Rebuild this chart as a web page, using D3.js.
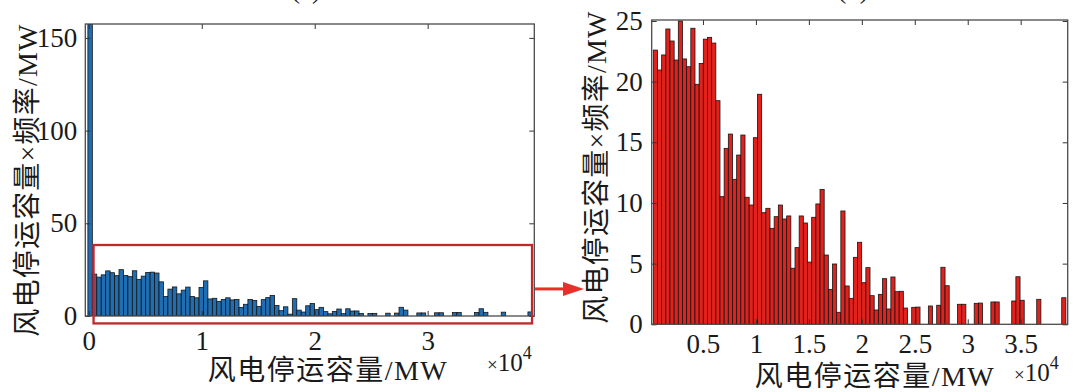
<!DOCTYPE html>
<html><head><meta charset="utf-8">
<script src="https://cdn.jsdelivr.net/npm/d3@7"></script>
<style>
html,body{margin:0;padding:0;background:#fff;}
svg{display:block;}
</style></head>
<body>
<svg id="chart" width="1080" height="392"></svg>
<script>
// ---- data ----
const binStart = -81;      // MW, left edge of first bin
const binWidth = 393.5;    // MW
const values = [157.5, 22.6, 20.96, 22.2, 24.34, 23.35, 21.78, 25.0, 21.87, 21.23, 24.4,
  19.78, 21.5, 23.5, 23.65, 23.18, 18.43, 10.52, 14.5, 15.68, 11.95,
  13.95, 15.6, 10.47, 9.83, 15.38, 18.96, 9.2, 9.56, 7.91, 8.87,
  9.83, 8.68, 8.93, 4.62, 6.32, 8.93, 8.35, 5.13, 8.82, 9.92,
  11.12, 5.71, 2.88, 4.97, 0.99, 9.34, 3.16, 2.14, 5.52, 6.76,
  3.43, 4.67, 2.36, 1.18, 2.47, 3.76, 1.26, 3.9, 2.69, 2.72,
  1.34, 0, 1.4, 1.42, 0, 0, 1.51, 0, 1.57, 4.7,
  3.18, 0, 0, 1.65, 1.65, 0, 0, 1.73, 1.75, 0,
  0, 1.84, 1.84, 0, 0, 0, 1.92, 3.92, 1.98, 0,
  0, 0, 2.06, 0, 0, 0, 0, 0, 2.19];
const leftXTicks = [0, 10000, 20000, 30000];
const leftXTickLabels = ["0", "1", "2", "3"];
const leftYTicks = [0, 50, 100, 150];
const rightXTicks = [5000, 10000, 15000, 20000, 25000, 30000, 35000];
const rightXTickLabels = ["0.5", "1", "1.5", "2", "2.5", "3", "3.5"];
const rightYTicks = [0, 5, 10, 15, 20, 25];
const yTitle = "风电停运容量×频率/MW";
const xTitle = "风电停运容量/MW";
const panelTitles = ["(a)", "(b)"];

const bins = values.map((v, i) => ({i, x0: binStart + i * binWidth, x1: binStart + (i + 1) * binWidth, v}));

const svg = d3.select("#chart");
const FONT = "'Liberation Serif','Noto Sans CJK SC',serif";
const TXT = "#1a1a1a";

function panel(cfg) {
  const x = d3.scaleLinear().domain(cfg.xDomain).range(cfg.xRange);
  const y = d3.scaleLinear().domain(cfg.yDomain).range(cfg.yRange);
  const g = svg.append("g");
  const clipId = "clip" + cfg.id;
  svg.append("clipPath").attr("id", clipId).append("rect")
    .attr("x", cfg.xRange[0]).attr("y", cfg.yRange[1])
    .attr("width", cfg.xRange[1] - cfg.xRange[0]).attr("height", cfg.yRange[0] - cfg.yRange[1]);

  g.append("g").attr("clip-path", `url(#${clipId})`)
    .selectAll("rect").data(cfg.data.filter(d => d.v > 0)).join("rect")
    .attr("x", d => x(d.x0)).attr("width", d => x(d.x1) - x(d.x0))
    .attr("y", d => y(Math.min(d.v, cfg.yDomain[1]))).attr("height", d => y(0) - y(Math.min(d.v, cfg.yDomain[1])))
    .attr("fill", cfg.fill).attr("stroke", "#151515").attr("stroke-width", 0.8);

  const styleAxis = sel => {
    sel.select(".domain").remove();
    sel.selectAll(".tick line").attr("stroke", "#333").attr("stroke-width", 1);
    sel.selectAll("text").attr("font-family", FONT).attr("font-size", 27).attr("fill", TXT);
  };
  const [X0, X1] = cfg.xRange, [Y0, Y1] = cfg.yRange;
  g.append("g").attr("transform", `translate(0,${Y0})`)
    .call(d3.axisBottom(x).tickValues(cfg.xTicks).tickFormat((d, i) => cfg.xTickLabels[i]).tickSizeInner(-5).tickSizeOuter(0).tickPadding(cfg.xPad))
    .call(styleAxis);
  g.append("g").attr("transform", `translate(0,${Y1})`)
    .call(d3.axisTop(x).tickValues(cfg.xTicks).tickFormat("").tickSizeInner(-5).tickSizeOuter(0))
    .call(styleAxis);
  g.append("g").attr("transform", `translate(${X0},0)`)
    .call(d3.axisLeft(y).tickValues(cfg.yTicks).tickSizeInner(-5).tickSizeOuter(0).tickPadding(cfg.yPad))
    .call(styleAxis);
  g.append("g").attr("transform", `translate(${X1},0)`)
    .call(d3.axisRight(y).tickValues(cfg.yTicks).tickFormat("").tickSizeInner(-5).tickSizeOuter(0))
    .call(styleAxis);

  g.append("rect").attr("x", X0).attr("y", Y1).attr("width", X1 - X0).attr("height", Y0 - Y1)
    .attr("fill", "none").attr("stroke", "#4a4a4a").attr("stroke-width", 1.3);

  // y title
  g.append("text").attr("transform", `translate(${cfg.yTitlePos[0]},${cfg.yTitlePos[1]}) rotate(-90)`)
    .attr("text-anchor", "middle").attr("dy", "0.38em")
    .attr("font-family", FONT).attr("font-size", 28).attr("letter-spacing", 1.2).attr("fill", TXT)
    .text(yTitle);
  // x title
  g.append("text").attr("x", cfg.xTitlePos[0]).attr("y", cfg.xTitlePos[1])
    .attr("text-anchor", "middle").attr("dy", "0.38em")
    .attr("font-family", FONT).attr("font-size", 28).attr("letter-spacing", 1.5).attr("fill", TXT)
    .text(xTitle);
  // exponent
  const e = g.append("text").attr("x", cfg.expPos[0]).attr("y", cfg.expPos[1])
    .attr("font-family", FONT).attr("font-size", 25).attr("fill", TXT);
  e.append("tspan").attr("font-size", 19).text("×");
  e.append("tspan").text("10");
  e.append("tspan").attr("font-size", 18).attr("dy", -12).text("4");
  // panel title (cut off at top, as in the reference)
  g.append("text").attr("x", cfg.titleX).attr("y", -2).attr("text-anchor", "middle")
    .attr("font-family", FONT).attr("font-size", 27).attr("fill", TXT).text(cfg.title);
  return {x, y, g};
}

const L = panel({
  id: "L", data: bins, fill: "#1f6db3",
  xDomain: [-310, 39440], xRange: [85.3, 534.3],
  yDomain: [0, 157.5], yRange: [316, 24],
  xTicks: leftXTicks, xTickLabels: leftXTickLabels, yTicks: leftYTicks,
  xPad: 15, yPad: 8,
  yTitlePos: [26, 180], xTitlePos: [328, 369], expPos: [487, 371],
  titleX: 306, title: panelTitles[0]
});
const R = panel({
  id: "R", data: bins.slice(1), fill: "#e3211c",
  xDomain: [160, 39440], xRange: [651.7, 1067.7],
  yDomain: [0, 25.08], yRange: [324.3, 20],
  xTicks: rightXTicks, xTickLabels: rightXTickLabels, yTicks: rightYTicks,
  xPad: 10, yPad: 9,
  yTitlePos: [595, 167], xTitlePos: [875, 375], expPos: [1014, 381],
  titleX: 853, title: panelTitles[1]
});

// highlight box on left panel
L.g.append("rect")
  .attr("x", L.x(420)).attr("y", L.y(38.3))
  .attr("width", L.x(39240) - L.x(420)).attr("height", L.y(-4) - L.y(38.3))
  .attr("fill", "none").attr("stroke", "#c1272d").attr("stroke-width", 2.3);

// arrow
const ay = L.y(14.6);
svg.append("line").attr("x1", L.x(39240) + 3).attr("x2", 566).attr("y1", ay).attr("y2", ay)
  .attr("stroke", "#e8302a").attr("stroke-width", 3);
svg.append("path").attr("d", `M563,${ay - 7}L584,${ay}L563,${ay + 7}Z`).attr("fill", "#e8302a");
</script>
</body></html>
